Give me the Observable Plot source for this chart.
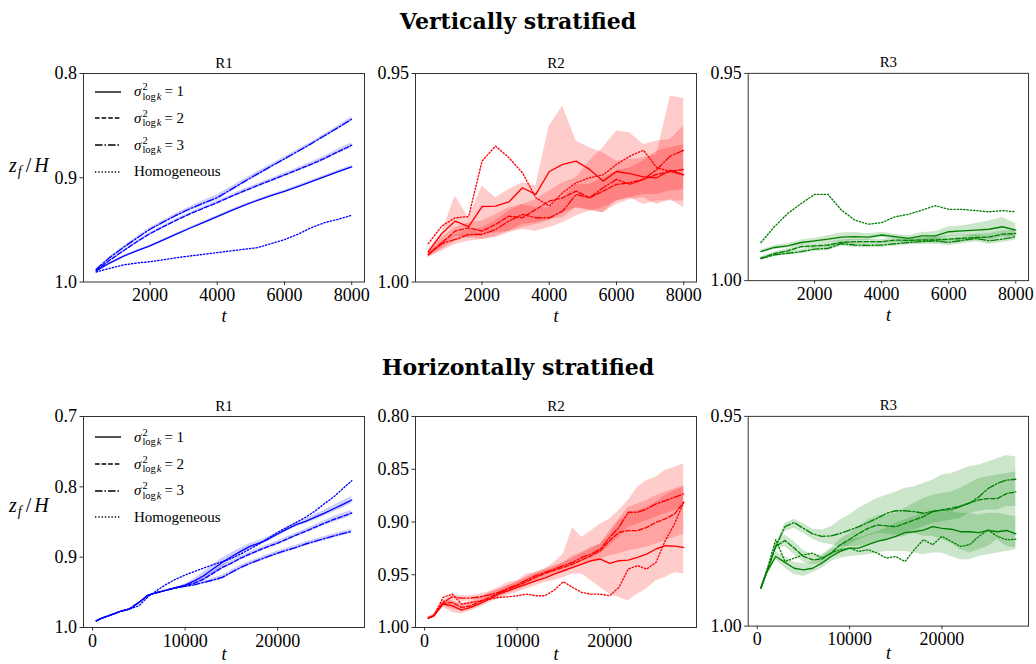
<!DOCTYPE html>
<html>
<head>
<meta charset="utf-8">
<script src="https://cdn.jsdelivr.net/npm/d3@7"></script>
<script src="https://cdn.jsdelivr.net/npm/@observablehq/plot@0.6"></script>
<style>
  body { margin: 0; background: #fff; }
  #root { position: relative; width: 1036px; height: 664px; overflow: hidden; font-family: "Liberation Serif", serif; color: #000; }
  .title { position: absolute; left: 0; width: 1036px; text-align: center; font-family: "DejaVu Serif", serif; font-weight: bold; font-size: 22px; line-height: 22px; }
  .panel { position: absolute; }
  .ylab { position: absolute; left: 9px; font-size: 20px; line-height: 20px; white-space: nowrap; }
  .ylab .sb { position: relative; top: 0.3em; font-size: 0.7em; margin-left: 1px; }
  .ylab .sl { margin: 0 3px 0 4px; }
  .legrow { position: absolute; height: 20px; display: flex; align-items: center; font-size: 15px; white-space: nowrap; }
  .legrow svg { margin-right: 13px; }
  .ss { display: inline-flex; flex-direction: column; font-size: 10.5px; line-height: 9.5px; vertical-align: 5.5px; margin-left: 1px; margin-right: 3px; }
</style>
</head>
<body>
<div id="root"></div>
<script>
// ---------- time grids ----------
const tVert = [400, 800, 1200, 1600, 2000, 2400, 2800, 3200, 3600, 4000, 4400, 4800, 5200, 5600, 6000, 6400, 6800, 7200, 7600, 8000];
const tHoriz = [400, 1000, 2000, 3000, 4000, 5000, 6000, 7000, 8000, 9000, 10000, 11000, 12000, 13000, 14000, 15000, 16000, 17000, 18000, 19000, 20000, 21000, 22000, 23000, 24000, 25000, 26000, 27000, 28000];

// ---------- tick labels ----------
const xTicksVert = [2000, 4000, 6000, 8000];
const xTicksHoriz = [0, 10000, 20000];
const yTicksVR1 = [0.8, 0.9, 1.0];
const yTicksVR2 = [0.95, 1.00];
const yTicksVR3 = [0.95, 1.00];
const yTicksHR1 = [0.7, 0.8, 0.9, 1.0];
const yTicksHR2 = [0.80, 0.85, 0.90, 0.95, 1.00];
const yTicksHR3 = [0.95, 1.00];

const seriesNames = ["σ²logk = 1", "σ²logk = 2", "σ²logk = 3", "Homogeneous"];
const regionNames = ["R1", "R2", "R3"];
const rowTitles = ["Vertically stratified", "Horizontally stratified"];

// ---------- Vertically stratified, R1 ----------
const vR1s1 = [0.9894,0.9818,0.9754,0.9702,0.9654,0.9597,0.9539,0.9482,0.9427,0.9373,0.9318,0.9264,0.9216,0.9171,0.9130,0.9085,0.9037,0.8989,0.8941,0.8896];
const vR1s2 = [0.9888,0.9792,0.9702,0.9616,0.9536,0.9469,0.9405,0.9344,0.9290,0.9238,0.9181,0.9126,0.9075,0.9024,0.8973,0.8922,0.8870,0.8813,0.8749,0.8688];
const vR1s3 = [0.9878,0.9766,0.9670,0.9581,0.9494,0.9424,0.9357,0.9296,0.9242,0.9190,0.9114,0.9037,0.8963,0.8890,0.8819,0.8746,0.8672,0.8595,0.8518,0.8438];
const vR1hom = [0.9904,0.9869,0.9837,0.9818,0.9805,0.9786,0.9766,0.9750,0.9734,0.9718,0.9702,0.9686,0.9670,0.9632,0.9594,0.9542,0.9478,0.9430,0.9398,0.9360];
const vR1sp1 = [0.0005,0.0006,0.0006,0.0007,0.0008,0.0008,0.0008,0.0009,0.0009,0.0010,0.0010,0.0010,0.0010,0.0011,0.0011,0.0012,0.0012,0.0012,0.0013,0.0013];
const vR1sp2 = [0.0006,0.0008,0.0009,0.0010,0.0011,0.0012,0.0013,0.0014,0.0015,0.0016,0.0016,0.0017,0.0017,0.0018,0.0018,0.0019,0.0020,0.0022,0.0024,0.0024];
const vR1sp3 = [0.0006,0.0008,0.0010,0.0012,0.0014,0.0016,0.0018,0.0020,0.0024,0.0026,0.0026,0.0024,0.0022,0.0020,0.0018,0.0016,0.0016,0.0016,0.0018,0.0020];

// ---------- Vertically stratified, R2 ----------
const vR2s1 = [0.9928,0.9884,0.9854,0.9867,0.9819,0.9818,0.9808,0.9774,0.9790,0.9735,0.9718,0.9710,0.9730,0.9758,0.9735,0.9740,0.9748,0.9750,0.9732,0.9743];
const vR2s2 = [0.9934,0.9906,0.9878,0.9870,0.9878,0.9862,0.9842,0.9846,0.9826,0.9806,0.9798,0.9782,0.9798,0.9782,0.9766,0.9762,0.9754,0.9742,0.9735,0.9730];
const vR2s3 = [0.9935,0.9908,0.9898,0.9886,0.9886,0.9874,0.9854,0.9838,0.9846,0.9846,0.9830,0.9790,0.9798,0.9774,0.9754,0.9766,0.9754,0.9730,0.9698,0.9684];
const vR2hom = [0.9908,0.9866,0.9846,0.9843,0.9710,0.9674,0.9702,0.9738,0.9798,0.9818,0.9786,0.9762,0.9750,0.9743,0.9718,0.9698,0.9684,0.9726,0.9735,0.9743];
const vR2b1lo = [0.9935,0.9918,0.9890,0.9894,0.9886,0.9882,0.9878,0.9870,0.9862,0.9854,0.9834,0.9822,0.9830,0.9834,0.9814,0.9802,0.9798,0.9814,0.9802,0.9822];
const vR2b1hi = [0.9922,0.9882,0.9794,0.9846,0.9770,0.9798,0.9778,0.9762,0.9770,0.9626,0.9578,0.9662,0.9678,0.9690,0.9710,0.9706,0.9702,0.9694,0.9554,0.9560];
const vR2b2lo = [0.9940,0.9922,0.9902,0.9894,0.9898,0.9890,0.9878,0.9862,0.9858,0.9850,0.9846,0.9822,0.9826,0.9834,0.9806,0.9798,0.9814,0.9806,0.9806,0.9806];
const vR2b2hi = [0.9926,0.9894,0.9870,0.9858,0.9854,0.9838,0.9822,0.9814,0.9802,0.9782,0.9762,0.9750,0.9710,0.9678,0.9638,0.9642,0.9670,0.9662,0.9658,0.9626];
const vR2b3lo = [0.9942,0.9926,0.9910,0.9902,0.9898,0.9894,0.9882,0.9874,0.9878,0.9870,0.9858,0.9842,0.9830,0.9822,0.9806,0.9798,0.9790,0.9790,0.9782,0.9778];
const vR2b3hi = [0.9930,0.9902,0.9886,0.9874,0.9870,0.9854,0.9830,0.9814,0.9822,0.9822,0.9798,0.9766,0.9766,0.9750,0.9734,0.9726,0.9710,0.9686,0.9678,0.9670];

// ---------- Vertically stratified, R3 ----------
const vR3s1 = [0.9930,0.9920,0.9916,0.9908,0.9904,0.9900,0.9895,0.9894,0.9895,0.9890,0.9894,0.9898,0.9892,0.9892,0.9882,0.9880,0.9878,0.9876,0.9870,0.9878];
const vR3s2 = [0.9946,0.9935,0.9928,0.9918,0.9916,0.9914,0.9908,0.9906,0.9906,0.9906,0.9902,0.9903,0.9902,0.9902,0.9900,0.9898,0.9896,0.9895,0.9888,0.9886];
const vR3s3 = [0.9947,0.9938,0.9934,0.9930,0.9924,0.9922,0.9911,0.9914,0.9915,0.9914,0.9911,0.9908,0.9906,0.9904,0.9908,0.9903,0.9898,0.9904,0.9900,0.9894];
const vR3hom = [0.9908,0.9870,0.9838,0.9814,0.9792,0.9792,0.9830,0.9854,0.9864,0.9860,0.9846,0.9840,0.9830,0.9819,0.9828,0.9828,0.9831,0.9834,0.9831,0.9834];
const vR3sp1 = [0.0004,0.0005,0.0005,0.0006,0.0006,0.0008,0.0010,0.0010,0.0008,0.0006,0.0006,0.0006,0.0008,0.0010,0.0012,0.0012,0.0016,0.0020,0.0022,0.0016];
const vR3sp2 = [0.0003,0.0004,0.0005,0.0005,0.0006,0.0006,0.0006,0.0006,0.0005,0.0005,0.0006,0.0006,0.0006,0.0008,0.0008,0.0008,0.0008,0.0008,0.0008,0.0008];
const vR3sp3 = [0.0003,0.0004,0.0004,0.0005,0.0005,0.0006,0.0006,0.0006,0.0006,0.0006,0.0006,0.0006,0.0007,0.0008,0.0008,0.0008,0.0008,0.0008,0.0008,0.0008];

// ---------- Horizontally stratified, R1 ----------
const hR1s1 = [0.9905,0.9867,0.9820,0.9772,0.9734,0.9644,0.9540,0.9502,0.9468,0.9435,0.9397,0.9336,0.9264,0.9169,0.9075,0.8994,0.8918,0.8847,0.8799,0.8742,0.8671,0.8600,0.8538,0.8491,0.8434,0.8377,0.8315,0.8253,0.8187];
const hR1s2 = [0.9905,0.9867,0.9820,0.9772,0.9734,0.9644,0.9540,0.9502,0.9468,0.9435,0.9407,0.9369,0.9312,0.9231,0.9146,0.9084,0.9013,0.8956,0.8899,0.8847,0.8799,0.8742,0.8685,0.8633,0.8576,0.8519,0.8467,0.8420,0.8372];
const hR1s3 = [0.9905,0.9867,0.9820,0.9772,0.9734,0.9644,0.9540,0.9502,0.9468,0.9435,0.9416,0.9393,0.9359,0.9326,0.9288,0.9217,0.9146,0.9089,0.9037,0.8989,0.8942,0.8899,0.8861,0.8813,0.8776,0.8738,0.8700,0.8666,0.8633];
const hR1hom = [0.9905,0.9867,0.9820,0.9772,0.9739,0.9692,0.9563,0.9468,0.9383,0.9312,0.9255,0.9203,0.9155,0.9108,0.9065,0.9018,0.8956,0.8885,0.8813,0.8728,0.8647,0.8576,0.8505,0.8434,0.8348,0.8244,0.8149,0.8030,0.7912];
const hR1sp1 = [0,0,0,0,0,0,0,0,0,0.0005,0.0015,0.003,0.005,0.006,0.006,0.0055,0.005,0.004,0.0035,0.003,0.003,0.003,0.003,0.0035,0.004,0.004,0.0045,0.005,0.005];
const hR1sp2 = [0,0,0,0,0,0,0,0,0,0.0005,0.001,0.0015,0.002,0.0025,0.003,0.003,0.003,0.003,0.003,0.003,0.003,0.003,0.003,0.003,0.0035,0.0035,0.004,0.004,0.004];
const hR1sp3 = [0,0,0,0,0,0,0,0,0,0.0005,0.001,0.0015,0.002,0.0025,0.003,0.003,0.003,0.003,0.003,0.003,0.003,0.003,0.003,0.003,0.003,0.003,0.003,0.003,0.003];

// ---------- Horizontally stratified, R2 ----------
const hR2s1 = [0.9911,0.9889,0.9779,0.9794,0.9835,0.9810,0.9772,0.9731,0.9684,0.9652,0.9620,0.9589,0.9557,0.9532,0.9494,0.9462,0.9430,0.9399,0.9367,0.9351,0.9392,0.9367,0.9361,0.9335,0.9304,0.9256,0.9225,0.9228,0.9240];
const hR2s2 = [0.9911,0.9889,0.9772,0.9763,0.9810,0.9794,0.9753,0.9715,0.9677,0.9636,0.9604,0.9566,0.9525,0.9487,0.9456,0.9430,0.9399,0.9358,0.9320,0.9272,0.9177,0.9098,0.9082,0.9082,0.9051,0.9003,0.8971,0.8924,0.8813];
const hR2s3 = [0.9911,0.9889,0.9763,0.9709,0.9721,0.9721,0.9709,0.9690,0.9668,0.9630,0.9595,0.9551,0.9509,0.9478,0.9446,0.9414,0.9383,0.9335,0.9304,0.9256,0.9145,0.9051,0.8908,0.8908,0.8876,0.8829,0.8797,0.8766,0.8734];
const hR2hom = [0.9911,0.9889,0.9715,0.9684,0.9778,0.9763,0.9747,0.9731,0.9715,0.9709,0.9699,0.9684,0.9699,0.9699,0.9646,0.9566,0.9620,0.9668,0.9684,0.9684,0.9699,0.9620,0.9446,0.9414,0.9446,0.9383,0.9177,0.9019,0.8813];
const hR2b1lo = [0.9921,0.9905,0.9810,0.9858,0.9873,0.9842,0.9810,0.9763,0.9731,0.9699,0.9668,0.9636,0.9604,0.9573,0.9557,0.9525,0.9494,0.9494,0.9557,0.9620,0.9684,0.9715,0.9747,0.9684,0.9636,0.9557,0.9525,0.9478,0.9494];
const hR2b1hi = [0.9899,0.9873,0.9747,0.9747,0.9778,0.9747,0.9715,0.9668,0.9620,0.9573,0.9557,0.9494,0.9478,0.9446,0.9383,0.9304,0.9051,0.9146,0.9082,0.9019,0.8971,0.8892,0.8797,0.8671,0.8607,0.8576,0.8512,0.8481,0.8449];
const hR2b2lo = [0.9918,0.9899,0.9794,0.9826,0.9842,0.9823,0.9794,0.9747,0.9715,0.9677,0.9646,0.9614,0.9573,0.9532,0.9494,0.9478,0.9446,0.9414,0.9383,0.9351,0.9320,0.9304,0.9272,0.9256,0.9240,0.9209,0.9177,0.9146,0.9114];
const hR2b2hi = [0.9902,0.9880,0.9747,0.9747,0.9772,0.9763,0.9721,0.9684,0.9646,0.9604,0.9573,0.9532,0.9494,0.9462,0.9430,0.9383,0.9320,0.9288,0.9240,0.9209,0.9114,0.8987,0.8924,0.8892,0.8861,0.8813,0.8750,0.8702,0.8671];
const hR2b3lo = [0.9918,0.9899,0.9785,0.9747,0.9753,0.9747,0.9731,0.9715,0.9690,0.9658,0.9627,0.9582,0.9541,0.9509,0.9478,0.9446,0.9414,0.9373,0.9342,0.9297,0.9225,0.9145,0.9051,0.9019,0.8987,0.8956,0.8924,0.8892,0.8861];
const hR2b3hi = [0.9902,0.9880,0.9747,0.9684,0.9699,0.9699,0.9684,0.9658,0.9636,0.9604,0.9563,0.9519,0.9478,0.9446,0.9414,0.9383,0.9345,0.9297,0.9256,0.9209,0.9082,0.8971,0.8861,0.8829,0.8797,0.8750,0.8718,0.8687,0.8655];

// ---------- Horizontally stratified, R3 ----------
const hR3s1 = [0.9909,0.9873,0.9834,0.9848,0.9862,0.9866,0.9862,0.9850,0.9834,0.9822,0.9814,0.9814,0.9806,0.9798,0.9793,0.9786,0.9777,0.9775,0.9771,0.9763,0.9767,0.9769,0.9775,0.9775,0.9777,0.9772,0.9775,0.9772,0.9780];
const hR3s2 = [0.9909,0.9873,0.9810,0.9796,0.9814,0.9834,0.9842,0.9840,0.9826,0.9806,0.9793,0.9779,0.9767,0.9759,0.9761,0.9763,0.9755,0.9747,0.9739,0.9727,0.9723,0.9719,0.9714,0.9706,0.9699,0.9696,0.9696,0.9684,0.9680];
const hR3s3 = [0.9909,0.9873,0.9810,0.9763,0.9753,0.9767,0.9780,0.9786,0.9785,0.9779,0.9771,0.9763,0.9753,0.9743,0.9731,0.9725,0.9725,0.9727,0.9731,0.9727,0.9723,0.9723,0.9715,0.9707,0.9692,0.9672,0.9660,0.9652,0.9650];
const hR3hom = [0.9909,0.9870,0.9794,0.9846,0.9838,0.9830,0.9826,0.9838,0.9826,0.9818,0.9814,0.9822,0.9818,0.9826,0.9838,0.9834,0.9846,0.9818,0.9794,0.9806,0.9786,0.9798,0.9810,0.9806,0.9786,0.9771,0.9786,0.9794,0.9793];
const hR3b1lo = [0.9913,0.9880,0.9842,0.9862,0.9877,0.9881,0.9873,0.9862,0.9846,0.9838,0.9834,0.9832,0.9830,0.9826,0.9822,0.9822,0.9822,0.9826,0.9830,0.9826,0.9826,0.9834,0.9842,0.9842,0.9834,0.9830,0.9826,0.9822,0.9818];
const hR3b1hi = [0.9905,0.9867,0.9822,0.9834,0.9848,0.9851,0.9848,0.9834,0.9818,0.9806,0.9794,0.9790,0.9783,0.9775,0.9767,0.9755,0.9747,0.9739,0.9731,0.9723,0.9727,0.9727,0.9731,0.9731,0.9735,0.9731,0.9731,0.9735,0.9739];
const hR3b2lo = [0.9911,0.9877,0.9818,0.9810,0.9830,0.9848,0.9854,0.9850,0.9838,0.9822,0.9806,0.9794,0.9786,0.9779,0.9780,0.9783,0.9779,0.9771,0.9763,0.9755,0.9751,0.9747,0.9743,0.9731,0.9727,0.9723,0.9723,0.9715,0.9715];
const hR3b2hi = [0.9907,0.9870,0.9802,0.9783,0.9798,0.9820,0.9830,0.9830,0.9814,0.9793,0.9779,0.9763,0.9747,0.9737,0.9735,0.9731,0.9719,0.9707,0.9696,0.9688,0.9684,0.9680,0.9672,0.9660,0.9648,0.9644,0.9640,0.9636,0.9632];
const hR3b3lo = [0.9911,0.9877,0.9818,0.9775,0.9767,0.9779,0.9793,0.9802,0.9806,0.9810,0.9810,0.9810,0.9806,0.9802,0.9794,0.9790,0.9786,0.9779,0.9786,0.9786,0.9794,0.9802,0.9818,0.9826,0.9818,0.9810,0.9794,0.9810,0.9814];
const hR3b3hi = [0.9907,0.9871,0.9806,0.9755,0.9745,0.9756,0.9769,0.9771,0.9763,0.9747,0.9735,0.9719,0.9707,0.9696,0.9688,0.9680,0.9672,0.9668,0.9660,0.9652,0.9640,0.9636,0.9628,0.9620,0.9616,0.9609,0.9601,0.9593,0.9597];

// ---------- styling ----------
const BLUE = "#0000ff", RED = "#ff0000", GREEN = "#008000";
const DASH = ["none", "4.6,2", "7.5,2,1.5,2", "1.3,2"];
const LW = 1.35;

// ---------- build ----------
const root = document.getElementById("root");
const mL = 50, mR = 8, mT = 22, mB = 46;

function bandFromSpread(line, spread) {
  return {lo: line.map((v, i) => v + spread[i]), hi: line.map((v, i) => v - spread[i])};
}

function panel(cfg) {
  const {t, lines, bands, xDomain, xTicks, yDomain, yTicks, yFmt, color, title, left, top, w, h, tDy} = cfg;
  const marks = [];
  bands.forEach(b => {
    const rows = t.map((tt, i) => ({t: tt, lo: b.lo[i], hi: b.hi[i]}));
    marks.push(Plot.areaY(rows, {x: "t", y1: "lo", y2: "hi", fill: color, fillOpacity: 0.2}));
  });
  lines.forEach((ln, k) => {
    const rows = t.map((tt, i) => ({t: tt, v: ln[i]}));
    marks.push(Plot.line(rows, {x: "t", y: "v", stroke: color, strokeWidth: LW, strokeDasharray: DASH[k]}));
  });
  marks.push(Plot.frame({stroke: "#333", strokeWidth: 1}));
  marks.push(Plot.axisX({ticks: xTicks, tickFormat: d => String(d), tickSize: 3.5, tickPadding: 3, label: null, stroke: "#333"}));
  marks.push(Plot.axisY({ticks: yTicks, tickFormat: d3.format(yFmt), tickSize: 3.5, tickPadding: 3, label: null, stroke: "#333"}));
  marks.push(Plot.text([title], {text: d => d, frameAnchor: "top", lineAnchor: "bottom", dy: -6, fontSize: 15}));
  marks.push(Plot.text(["t"], {text: d => d, frameAnchor: "bottom", lineAnchor: "middle", dy: tDy, fontSize: 18, fontStyle: "italic"}));
  const svg = Plot.plot({
    width: w + mL + mR, height: h + mT + mB,
    marginLeft: mL, marginRight: mR, marginTop: mT, marginBottom: mB,
    x: {domain: xDomain},
    y: {domain: yDomain},
    style: {fontFamily: "'Liberation Serif', serif", fontSize: "18px", background: "transparent", overflow: "visible", color: "#000"},
    marks
  });
  const div = document.createElement("div");
  div.className = "panel";
  div.style.left = (left - mL) + "px";
  div.style.top = (top - mT) + "px";
  div.appendChild(svg);
  root.appendChild(div);
}

const cols = [{left: 83, w: 281}, {left: 415, w: 281}, {left: 748, w: 282}];
const rowsGeo = [{top: 72.5, h: 208.5, tDy: 34.5}, {top: 416, h: 211, tDy: 27}];

// row titles
[[rowTitles[0], 9.5], [rowTitles[1], 355.5]].forEach(([txt, y]) => {
  const d = document.createElement("div");
  d.className = "title";
  d.style.top = y + "px";
  d.textContent = txt;
  root.appendChild(d);
});

const vX = [20, 8380], hX = [-980, 29380];
const cfgs = [
  {t: tVert, lines: [vR1s1, vR1s2, vR1s3, vR1hom], bands: [bandFromSpread(vR1s1, vR1sp1), bandFromSpread(vR1s2, vR1sp2), bandFromSpread(vR1s3, vR1sp3)],
   xDomain: vX, xTicks: xTicksVert, yDomain: [1.0, 0.8], yTicks: yTicksVR1, yFmt: ".1f", color: BLUE, title: regionNames[0], row: 0, col: 0},
  {t: tVert, lines: [vR2s1, vR2s2, vR2s3, vR2hom], bands: [{lo: vR2b1lo, hi: vR2b1hi}, {lo: vR2b2lo, hi: vR2b2hi}, {lo: vR2b3lo, hi: vR2b3hi}],
   xDomain: vX, xTicks: xTicksVert, yDomain: [1.0, 0.95], yTicks: yTicksVR2, yFmt: ".2f", color: RED, title: regionNames[1], row: 0, col: 1},
  {t: tVert, lines: [vR3s1, vR3s2, vR3s3, vR3hom], bands: [bandFromSpread(vR3s1, vR3sp1), bandFromSpread(vR3s2, vR3sp2), bandFromSpread(vR3s3, vR3sp3)],
   xDomain: vX, xTicks: xTicksVert, yDomain: [1.0, 0.95], yTicks: yTicksVR3, yFmt: ".2f", color: GREEN, title: regionNames[2], row: 0, col: 2},
  {t: tHoriz, lines: [hR1s1, hR1s2, hR1s3, hR1hom], bands: [bandFromSpread(hR1s1, hR1sp1), bandFromSpread(hR1s2, hR1sp2), bandFromSpread(hR1s3, hR1sp3)],
   xDomain: hX, xTicks: xTicksHoriz, yDomain: [1.0, 0.7], yTicks: yTicksHR1, yFmt: ".1f", color: BLUE, title: regionNames[0], row: 1, col: 0},
  {t: tHoriz, lines: [hR2s1, hR2s2, hR2s3, hR2hom], bands: [{lo: hR2b1lo, hi: hR2b1hi}, {lo: hR2b2lo, hi: hR2b2hi}, {lo: hR2b3lo, hi: hR2b3hi}],
   xDomain: hX, xTicks: xTicksHoriz, yDomain: [1.0, 0.8], yTicks: yTicksHR2, yFmt: ".2f", color: RED, title: regionNames[1], row: 1, col: 1},
  {t: tHoriz, lines: [hR3s1, hR3s2, hR3s3, hR3hom], bands: [{lo: hR3b1lo, hi: hR3b1hi}, {lo: hR3b2lo, hi: hR3b2hi}, {lo: hR3b3lo, hi: hR3b3hi}],
   xDomain: hX, xTicks: xTicksHoriz, yDomain: [1.0, 0.95], yTicks: yTicksHR3, yFmt: ".2f", color: GREEN, title: regionNames[2], row: 1, col: 2}
];
cfgs.forEach(c => panel({...c, left: cols[c.col].left, w: cols[c.col].w, top: rowsGeo[c.row].top, h: rowsGeo[c.row].h, tDy: rowsGeo[c.row].tDy}));

// y labels
[155, 495].forEach(y => {
  const d = document.createElement("div");
  d.className = "ylab";
  d.style.top = y + "px";
  d.innerHTML = "<i>z</i><span class='sb'><i>f</i></span><span class='sl'>/</span><i>H</i>";
  root.appendChild(d);
});

// legends (in R1 panels)
function legendLabel(i) {
  if (i === 3) return seriesNames[3];
  return "<i>σ</i><span class='ss'><span>2</span><span>log&#8202;<i>k</i></span></span>= " + (i + 1);
}
[[81.7, 108.4, 135.1, 161.8], [427.3, 454, 480.7, 507.4]].forEach(ys => {
  ys.forEach((y, i) => {
    const r = document.createElement("div");
    r.className = "legrow";
    r.style.left = "95px";
    r.style.top = y + "px";
    const dash = DASH[i] === "none" ? "" : ` stroke-dasharray="${DASH[i]}"`;
    r.innerHTML = `<svg width="26" height="20"><line x1="0" x2="26" y1="10" y2="10" stroke="#000" stroke-width="${LW}"${dash}/></svg><span>${legendLabel(i)}</span>`;
    root.appendChild(r);
  });
});
</script>
</body>
</html>
